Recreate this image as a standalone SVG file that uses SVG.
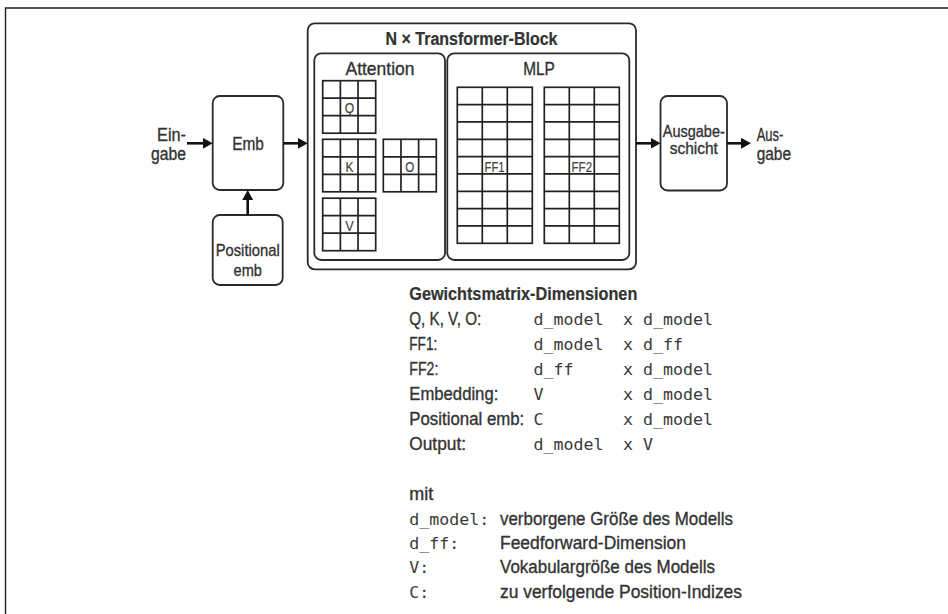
<svg xmlns="http://www.w3.org/2000/svg" width="948" height="614" viewBox="0 0 948 614">
<defs>
<style>
.frame{fill:none;stroke:#1e1e1e;stroke-width:1.4}
.box{fill:#fff;stroke:#2a2a2a;stroke-width:1.8}
.grid{fill:none;stroke:#222;stroke-width:1.7}
.conn{fill:none;stroke:#111;stroke-width:2.6}
.t{font-family:'Liberation Sans Narrow','Liberation Sans',Arial,sans-serif;fill:#333;stroke:#333;stroke-width:0.35}
.b{font-weight:bold;stroke-width:0.2}
.m{font-family:'DejaVu Sans Mono','Liberation Mono',monospace;font-size:16.6px;fill:#3a3a3a}
.lbl{font-family:'Liberation Sans Narrow','Liberation Sans',Arial,sans-serif;font-size:15.5px;fill:#444;stroke:#444;stroke-width:0.2;text-anchor:middle}
.c{text-anchor:middle}
.e{text-anchor:end}
</style>
<marker id="ah" markerUnits="userSpaceOnUse" markerWidth="10" markerHeight="11" refX="2" refY="5.5" orient="auto">
<path d="M0,0 L10,5.5 L0,11 Z" fill="#111"/>
</marker>
</defs>

<g id="frame">
<path class="frame" d="M5.5,614 V8 H948"/>
</g>

<g id="input-label">
<text class="t e" x="186" y="141" font-size="17.5" textLength="29" lengthAdjust="spacingAndGlyphs">Ein-</text>
<text class="t e" x="186" y="160" font-size="17.5" textLength="35" lengthAdjust="spacingAndGlyphs">gabe</text>
</g>

<g id="emb">
<rect class="box" x="212.7" y="96" width="70.6" height="94" rx="7"/>
<text class="t c" x="248" y="150" font-size="18" textLength="31.7" lengthAdjust="spacingAndGlyphs">Emb</text>
</g>

<g id="positional-emb">
<rect class="box" x="212.7" y="215" width="70" height="70" rx="7"/>
<text class="t c" x="247.7" y="256" font-size="17" textLength="64" lengthAdjust="spacingAndGlyphs">Positional</text>
<text class="t c" x="247.7" y="276" font-size="17" textLength="28.3" lengthAdjust="spacingAndGlyphs">emb</text>
</g>

<g id="transformer-block">
<rect class="box" x="307.7" y="23.3" width="328.3" height="246" rx="7"/>
<text class="t b c" x="471.5" y="45" font-size="17.5" textLength="172" lengthAdjust="spacingAndGlyphs">N × Transformer-Block</text>
</g>

<g id="attention">
<rect class="box" x="314.3" y="53.3" width="130.7" height="206.7" rx="7"/>
<text class="t c" x="380" y="75" font-size="18.5" textLength="69" lengthAdjust="spacingAndGlyphs">Attention</text>
<g id="matrix-q">
<rect class="grid" x="322.7" y="80.7" width="53" height="52.5"/>
<path class="grid" d="M340.37,80.7V133.2M358.03,80.7V133.2M322.7,98.2H375.7M322.7,115.7H375.7"/>
<text class="lbl" x="349.4" y="113" textLength="9.5" lengthAdjust="spacingAndGlyphs">Q</text>
</g>
<g id="matrix-k">
<rect class="grid" x="322.7" y="139.3" width="53" height="52.5"/>
<path class="grid" d="M340.37,139.3V191.8M358.03,139.3V191.8M322.7,156.8H375.7M322.7,174.3H375.7"/>
<text class="lbl" x="349.4" y="171.6" textLength="8" lengthAdjust="spacingAndGlyphs">K</text>
</g>
<g id="matrix-v">
<rect class="grid" x="322.7" y="198.2" width="53" height="52.5"/>
<path class="grid" d="M340.37,198.2V250.7M358.03,198.2V250.7M322.7,215.7H375.7M322.7,233.2H375.7"/>
<text class="lbl" x="349.4" y="230.5" textLength="8.5" lengthAdjust="spacingAndGlyphs">V</text>
</g>
<g id="matrix-o">
<rect class="grid" x="383.3" y="139.3" width="53" height="52.5"/>
<path class="grid" d="M400.97,139.3V191.8M418.63,139.3V191.8M383.3,156.8H436.3M383.3,174.3H436.3"/>
<text class="lbl" x="409.8" y="171.6" textLength="9" lengthAdjust="spacingAndGlyphs">O</text>
</g>
</g>

<g id="mlp">
<rect class="box" x="447.3" y="53.3" width="182" height="206.7" rx="7"/>
<text class="t c" x="539" y="75" font-size="18.5" textLength="31.7" lengthAdjust="spacingAndGlyphs">MLP</text>
<g id="matrix-ff1">
<rect class="grid" x="457.3" y="87.3" width="75" height="156"/>
<path class="grid" d="M482.3,87.3V243.3M507.3,87.3V243.3M457.3,104.63H532.3M457.3,121.97H532.3M457.3,139.3H532.3M457.3,156.63H532.3M457.3,173.97H532.3M457.3,191.3H532.3M457.3,208.63H532.3M457.3,225.97H532.3"/>
<text class="lbl" x="494.6" y="172" textLength="20" lengthAdjust="spacingAndGlyphs">FF1</text>
</g>
<g id="matrix-ff2">
<rect class="grid" x="544.3" y="87.3" width="75" height="156"/>
<path class="grid" d="M569.3,87.3V243.3M594.3,87.3V243.3M544.3,104.63H619.3M544.3,121.97H619.3M544.3,139.3H619.3M544.3,156.63H619.3M544.3,173.97H619.3M544.3,191.3H619.3M544.3,208.63H619.3M544.3,225.97H619.3"/>
<text class="lbl" x="581.8" y="172" textLength="20.5" lengthAdjust="spacingAndGlyphs">FF2</text>
</g>
</g>

<g id="output-layer">
<rect class="box" x="660.5" y="96" width="66.5" height="94.5" rx="7"/>
<text class="t c" x="693.8" y="137" font-size="16.5" textLength="62" lengthAdjust="spacingAndGlyphs">Ausgabe-</text>
<text class="t c" x="693.8" y="154" font-size="16.5" textLength="48.3" lengthAdjust="spacingAndGlyphs">schicht</text>
</g>

<g id="output-label">
<text class="t" x="756.7" y="141" font-size="17.5" textLength="26.7" lengthAdjust="spacingAndGlyphs">Aus-</text>
<text class="t" x="756.7" y="160" font-size="17.5" textLength="34.3" lengthAdjust="spacingAndGlyphs">gabe</text>
</g>

<g id="connectors">
<line class="conn" x1="187" y1="143.3" x2="204.7" y2="143.3" marker-end="url(#ah)"/>
<line class="conn" x1="283.3" y1="143.3" x2="299.7" y2="143.3" marker-end="url(#ah)"/>
<line class="conn" x1="636" y1="143.3" x2="652.5" y2="143.3" marker-end="url(#ah)"/>
<line class="conn" x1="727" y1="143.3" x2="743" y2="143.3" marker-end="url(#ah)"/>
<line class="conn" x1="247.7" y1="215" x2="247.7" y2="198" marker-end="url(#ah)"/>
</g>

<g id="dimensions">
<text class="t b" x="409.3" y="300" font-size="18" textLength="228" lengthAdjust="spacingAndGlyphs">Gewichtsmatrix-Dimensionen</text>
<text class="t" x="409.3" y="325" font-size="18.5" textLength="72" lengthAdjust="spacingAndGlyphs">Q, K, V, O:</text>
<text class="t" x="409.3" y="350" font-size="18.5" textLength="28" lengthAdjust="spacingAndGlyphs">FF1:</text>
<text class="t" x="409.3" y="375" font-size="18.5" textLength="29" lengthAdjust="spacingAndGlyphs">FF2:</text>
<text class="t" x="409.3" y="400" font-size="18.5" textLength="89" lengthAdjust="spacingAndGlyphs">Embedding:</text>
<text class="t" x="409.3" y="425" font-size="17.5" textLength="115" lengthAdjust="spacingAndGlyphs">Positional emb:</text>
<text class="t" x="409.3" y="450" font-size="18.5" textLength="56.7" lengthAdjust="spacingAndGlyphs">Output:</text>

<text class="m" x="533.5" y="325">d_model</text><text class="m" x="623" y="325">x</text><text class="m" x="643" y="325">d_model</text>
<text class="m" x="533.5" y="350">d_model</text><text class="m" x="623" y="350">x</text><text class="m" x="643" y="350">d_ff</text>
<text class="m" x="533.5" y="375">d_ff</text><text class="m" x="623" y="375">x</text><text class="m" x="643" y="375">d_model</text>
<text class="m" x="533.5" y="400">V</text><text class="m" x="623" y="400">x</text><text class="m" x="643" y="400">d_model</text>
<text class="m" x="533.5" y="425">C</text><text class="m" x="623" y="425">x</text><text class="m" x="643" y="425">d_model</text>
<text class="m" x="533.5" y="450">d_model</text><text class="m" x="623" y="450">x</text><text class="m" x="643" y="450">V</text>
</g>

<g id="legend">
<text class="t" x="409.3" y="500" font-size="18.5" textLength="24" lengthAdjust="spacingAndGlyphs">mit</text>
<text class="m" x="409.3" y="524.5">d_model:</text>
<text class="m" x="409.3" y="549">d_ff:</text>
<text class="m" x="409.3" y="573">V:</text>
<text class="m" x="409.3" y="597.5">C:</text>
<text class="t" x="500" y="524.5" font-size="18.5" textLength="233" lengthAdjust="spacingAndGlyphs">verborgene Größe des Modells</text>
<text class="t" x="500" y="549" font-size="18.5" textLength="186" lengthAdjust="spacingAndGlyphs">Feedforward-Dimension</text>
<text class="t" x="500" y="573" font-size="18.5" textLength="215" lengthAdjust="spacingAndGlyphs">Vokabulargröße des Modells</text>
<text class="t" x="500" y="597.5" font-size="18.5" textLength="242" lengthAdjust="spacingAndGlyphs">zu verfolgende Position-Indizes</text>
</g>
</svg>
